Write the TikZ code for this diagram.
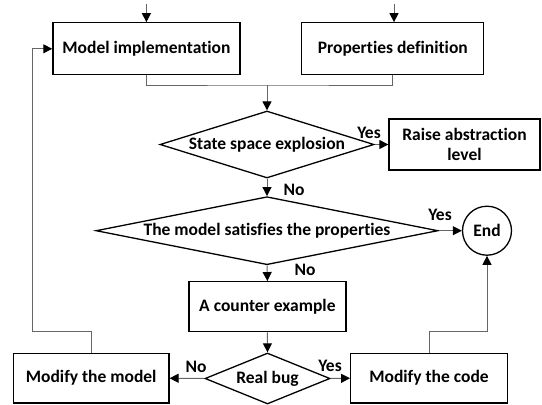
\documentclass[tikz,border=0pt]{standalone}
\usepackage{fontspec}
\setmainfont[Ligatures={NoCommon}]{Carlito}
\usetikzlibrary{shapes.geometric,arrows.meta}
\begin{document}
\begin{tikzpicture}[x=1pt,y=-1pt,
  font=\fontsize{17.5}{20}\selectfont\bfseries,
  box/.style={draw=black,line width=1.3pt,rectangle,inner sep=0pt,align=center},
  dia/.style={draw=black,line width=1.3pt,diamond,inner sep=0pt},
  conn/.style={draw=black!60,line width=1pt},
  arr/.style={conn,-{Triangle[length=9pt,width=9pt,fill=black,color=black]}},
  lbl/.style={inner sep=0pt}]
\useasboundingbox (0,0) rectangle (542,405);
% nodes
\node[box,minimum width=187pt,minimum height=52pt] (model) at (146.4,48.8) {Model implementation};
\node[box,minimum width=182pt,minimum height=52pt] (props) at (392.8,48.8) {Properties definition};
\node[dia,minimum width=214pt,minimum height=67pt,shape aspect=3.19] (sse) at (267,144.5) {State space explosion};
\node[box,minimum width=151pt,minimum height=51pt] (raise) at (464.5,144.5) {Raise abstraction\\level};
\node[dia,minimum width=342pt,minimum height=68pt,shape aspect=5.03] (sat) at (267,230.7) {The model satisfies the properties};
\node[draw=black,line width=1.3pt,circle,minimum size=49pt,inner sep=0pt] (end) at (487,230.7) {End};
\node[box,minimum width=157pt,minimum height=50pt] (counter) at (267.4,306.7) {A counter  example};
\node[dia,minimum width=125pt,minimum height=51pt,shape aspect=2.45] (bug) at (267.5,378.5) {Real bug};
\node[box,minimum width=155.5pt,minimum height=49.7pt] (modmodel) at (91.2,378.2) {Modify the model};
\node[box,minimum width=156.6pt,minimum height=49.7pt] (modcode) at (429,378.2) {Modify the code};
% coordinates
\coordinate (in1) at (146.4,4);
\coordinate (in2) at (394,4);
\coordinate (merge) at (267,85);
\coordinate (fbl) at (32,331);
\coordinate (fbr) at (487,331);
% connectors
\draw[arr] (in1) -- (in1 |- model.north);
\draw[arr] (in2) -- (in2 |- props.north);
\draw[conn] (model.south) |- (merge) -| (props.south);
\draw[arr] (merge) -- (sse.north);
\draw[arr] (sse.east) -- (raise.west);
\draw[arr] (sse.south) -- (sat.north);
\draw[arr] (sat.east) -- (end.west);
\draw[arr] (sat.south) -- (counter.north);
\draw[arr] (counter.south) -- (bug.north);
\draw[arr] (bug.west) -- (modmodel.east);
\draw[arr] (bug.east) -- (modcode.west);
\draw[arr] (modmodel.north) |- (fbl) |- (model.west);
\draw[arr] (modcode.north) |- (fbr) -- (end.south);
% labels
\node[lbl] (l1) at (369,133) {Yes};
\node[lbl] (l2) at (294,190) {No};
\node[lbl] (l3) at (440,215) {Yes};
\node[lbl] (l4) at (305,270) {No};
\node[lbl] (l5) at (196,367) {No};
\node[lbl] (l6) at (330,366) {Yes};
\end{tikzpicture}
\end{document}
